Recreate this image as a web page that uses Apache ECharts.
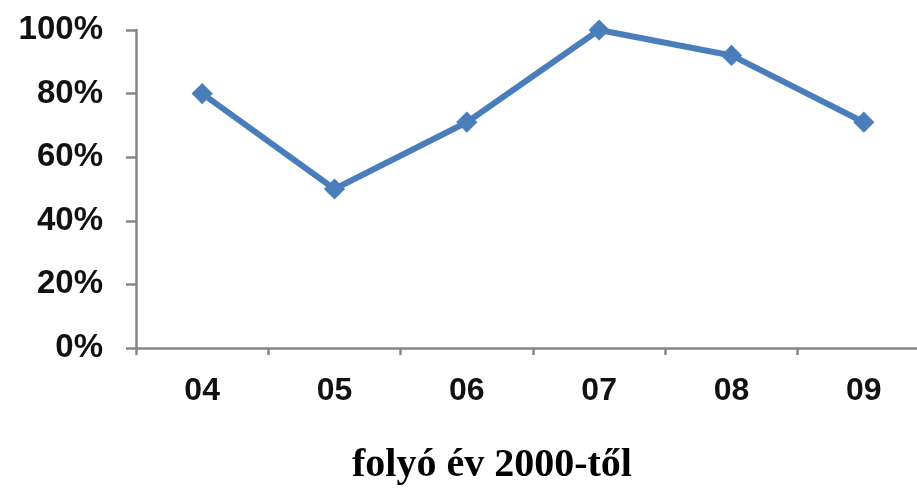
<!DOCTYPE html>
<html>
<head>
<meta charset="utf-8">
<script src="https://cdn.jsdelivr.net/npm/echarts@6/dist/echarts.min.js"></script>
<style>html,body{margin:0;padding:0;background:#fff;}#c{width:917px;height:492px;}</style>
</head>
<body>
<div id="c"></div>
<script>
const categories = ['04', '05', '06', '07', '08', '09'];
const values = [80, 50, 71, 100, 92, 71];
const yTicks = [0, 20, 40, 60, 80, 100];
const axisTitle = 'folyó év 2000-től';

const chart = echarts.init(document.getElementById('c'), null, { renderer: 'canvas' });
chart.setOption({
  animation: false,
  backgroundColor: '#ffffff',
  grid: { left: 136, top: 30, width: 794, height: 318, outerBoundsMode: 'none', containLabel: false },
  xAxis: {
    type: 'category',
    data: categories,
    boundaryGap: true,
    axisLine: { lineStyle: { color: '#868686', width: 2.5 } },
    axisTick: { show: true, length: 7, lineStyle: { color: '#868686', width: 2.5 } },
    axisLabel: { color: '#111', fontFamily: 'Liberation Sans, Arial', fontWeight: 'bold', fontSize: 32, margin: 27 },
    splitLine: { show: false }
  },
  yAxis: {
    type: 'value',
    min: yTicks[0],
    max: yTicks[yTicks.length - 1],
    interval: 20,
    axisLine: { show: true, lineStyle: { color: '#868686', width: 2.5 } },
    axisTick: { show: true, length: 10, lineStyle: { color: '#868686', width: 2.5 } },
    axisLabel: { color: '#111', fontFamily: 'Liberation Sans, Arial', fontWeight: 'bold', fontSize: 33, margin: 33, formatter: v => v + '%' },
    splitLine: { show: false }
  },
  graphic: [{
    type: 'text',
    left: 352,
    top: 446,
    style: { text: axisTitle, fill: '#000', font: 'bold 40px "Liberation Serif", "Times New Roman", serif' }
  }],
  series: [{
    type: 'line',
    data: values,
    smooth: false,
    symbol: 'rect',
    symbolRotate: 45,
    symbolSize: 15,
    lineStyle: { color: '#4A7EBB', width: 6 },
    itemStyle: { color: '#4A7EBB' }
  }]
});
</script>
</body>
</html>
